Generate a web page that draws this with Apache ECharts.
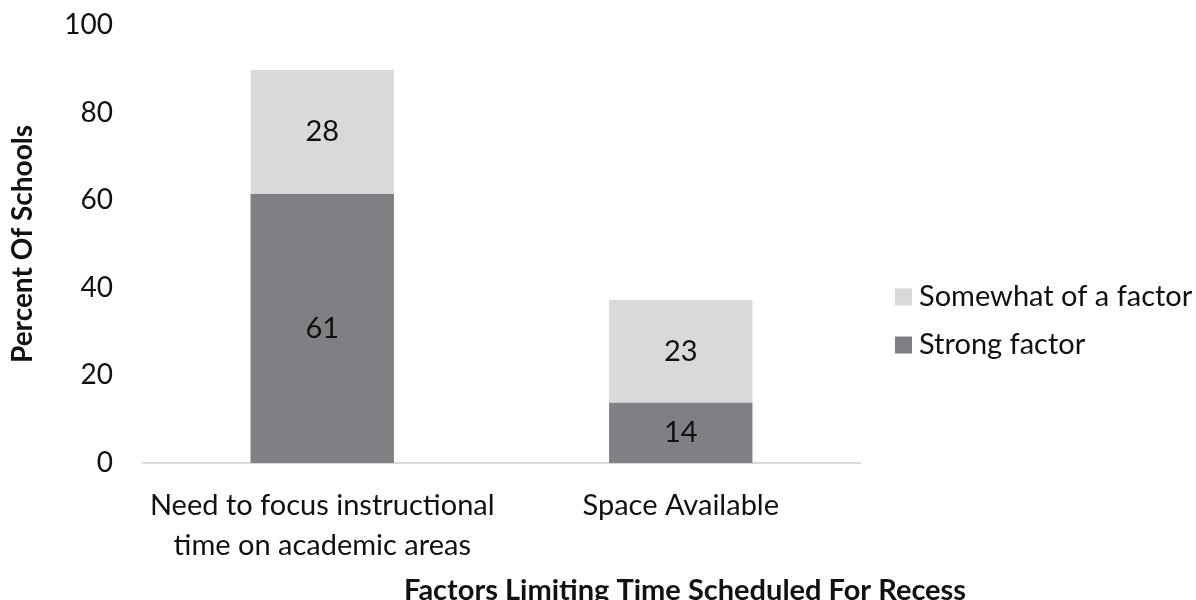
<!DOCTYPE html>
<html><head><meta charset="utf-8">
<script src="https://cdn.jsdelivr.net/npm/echarts@6/dist/echarts.min.js"></script>
<style>html,body{margin:0;padding:0;background:#fff}#c{width:1196px;height:600px}</style>
</head><body><div id="c"></div>
<script>
const categories = ["Need to focus instructional\ntime on academic areas", "Space Available"];
const strongFactor = [61.5, 13.8];
const somewhatFactor = [28.2, 23.4];
const strongLabels = [61, 14];
const somewhatLabels = [28, 23];
const yTicks = [0, 20, 40, 60, 80, 100];
const xTitle = 'Factors Limiting Time Scheduled For Recess';
const yTitle = 'Percent Of Schools';

const FONT = 'Lato';
const TXT = '#111111';
const chart = echarts.init(document.getElementById('c'));
chart.setOption({
  animation: false,
  textStyle: {fontFamily: FONT},
  title: {
    text: xTitle, left: 680, top: 571, textAlign: 'center',
    textStyle: {fontFamily: FONT, fontSize: 29, fontWeight: 'bold', color: TXT}
  },
  grid: {left: 143, right: 336, top: 25, bottom: 137, outerBoundsMode: 'none', containLabel: false},
  legend: {
    orient: 'vertical', left: 890, top: 277,
    itemWidth: 17, itemHeight: 17, itemGap: 18,
    icon: 'rect',
    textStyle: {fontFamily: FONT, fontSize: 29, color: TXT, lineHeight: 30, padding: [0, 0, 0, 2]},
    data: ['Somewhat of a factor', 'Strong factor']
  },
  xAxis: {
    type: 'category', data: categories,
    axisLine: {lineStyle: {color: '#d9d9d9', width: 2}},
    axisTick: {show: false},
    axisLabel: {fontFamily: FONT, fontSize: 29, color: TXT, lineHeight: 40, margin: 23, interval: 0, hideOverlap: false}
  },
  yAxis: {
    type: 'value', min: 0, max: 100, interval: 20,
    axisLine: {show: false}, axisTick: {show: false},
    splitLine: {show: false},
    axisLabel: {fontFamily: FONT, fontSize: 28, color: TXT, margin: 30,
      formatter: v => yTicks.includes(v) ? String(v) : ''},
    name: yTitle, nameLocation: 'middle', nameGap: 106, nameRotate: 90,
    nameTextStyle: {fontFamily: FONT, fontSize: 28, fontWeight: 'bold', color: TXT}
  },
  series: [
    {
      name: 'Strong factor', type: 'bar', stack: 's', data: strongFactor,
      barCategoryGap: '60%',
      itemStyle: {color: '#808084'},
      label: {show: true, position: 'inside', fontFamily: FONT, fontSize: 29, color: TXT,
        formatter: p => String(strongLabels[p.dataIndex])}
    },
    {
      name: 'Somewhat of a factor', type: 'bar', stack: 's', data: somewhatFactor,
      barCategoryGap: '60%',
      itemStyle: {color: '#d9d9db'},
      label: {show: true, position: 'inside', fontFamily: FONT, fontSize: 29, color: TXT,
        formatter: p => String(somewhatLabels[p.dataIndex])}
    }
  ]
});
</script></body></html>
